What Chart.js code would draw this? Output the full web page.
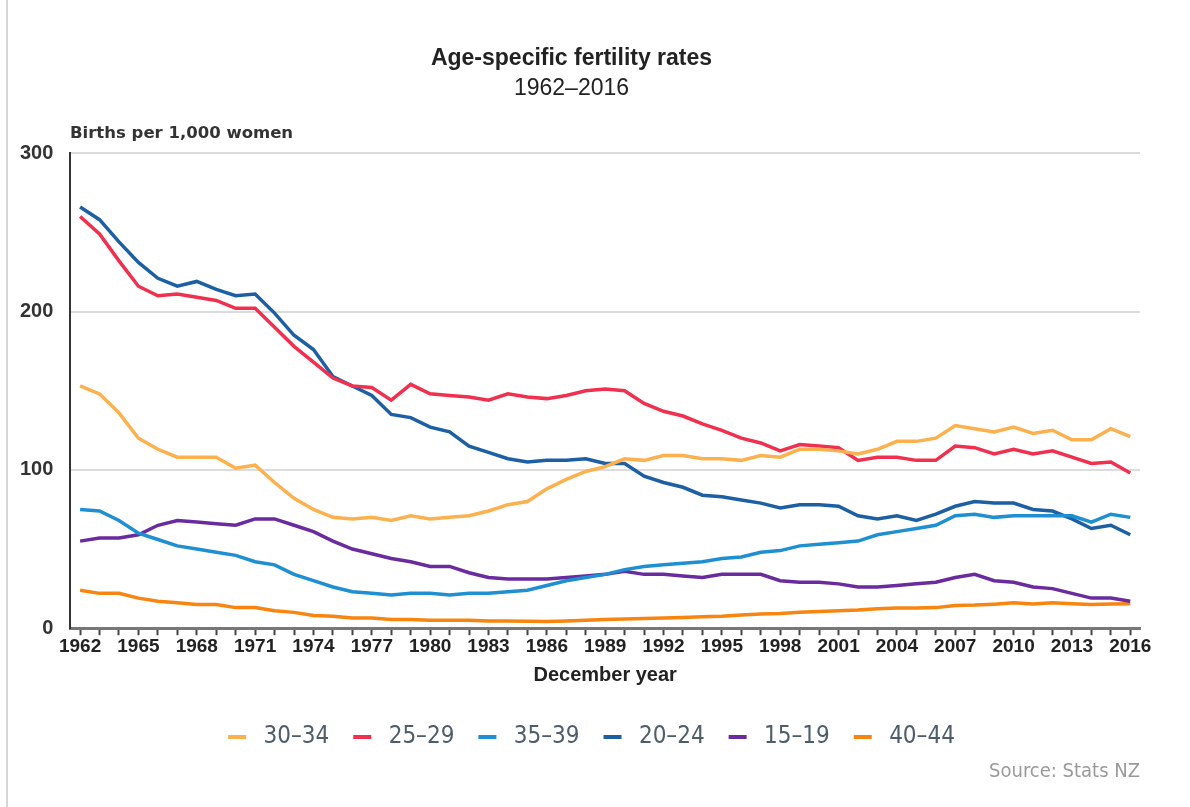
<!DOCTYPE html>
<html>
<head>
<meta charset="utf-8">
<script src="https://cdn.jsdelivr.net/npm/chart.js@4"></script>
<style>
  html, body { margin: 0; padding: 0; background: #fff; }
  #wrap { position: relative; width: 1190px; height: 807px; }
  #edge { position: absolute; left: 6px; top: 0; width: 2px; height: 807px; background: #d6d6d6; }
</style>
</head>
<body>
<div id="wrap">
  <div id="edge"></div>
  <canvas id="fertChart" width="1190" height="807"></canvas>
</div>
<script>
const years = [];
for (let y = 1962; y <= 2016; y++) years.push(y);

const rate30_34 = [153, 148, 136, 120, 113, 108, 108, 108, 101, 103,
    92, 82, 75, 70, 69, 70, 68, 71, 69, 70,
    71, 74, 78, 80, 88, 94, 99, 102, 107, 106,
    109, 109, 107, 107, 106, 109, 108, 113, 113, 112,
    110, 113, 118, 118, 120, 128, 126, 124, 127, 123,
    125, 119, 119, 126, 121];
const rate25_29 = [260, 249, 232, 216, 210, 211, 209, 207, 202, 202,
    190, 178, 168, 158, 153, 152, 144, 154, 148, 147,
    146, 144, 148, 146, 145, 147, 150, 151, 150, 142,
    137, 134, 129, 125, 120, 117, 112, 116, 115, 114,
    106, 108, 108, 106, 106, 115, 114, 110, 113, 110,
    112, 108, 104, 105, 98];
const rate35_39 = [75, 74, 68, 60, 56, 52, 50, 48, 46, 42,
    40, 34, 30, 26, 23, 22, 21, 22, 22, 21,
    22, 22, 23, 24, 27, 30, 32, 34, 37, 39,
    40, 41, 42, 44, 45, 48, 49, 52, 53, 54,
    55, 59, 61, 63, 65, 71, 72, 70, 71, 71,
    71, 71, 67, 72, 70];
const rate20_24 = [266, 258, 244, 231, 221, 216, 219, 214, 210, 211,
    199, 185, 176, 159, 153, 147, 135, 133, 127, 124,
    115, 111, 107, 105, 106, 106, 107, 104, 104, 96,
    92, 89, 84, 83, 81, 79, 76, 78, 78, 77,
    71, 69, 71, 68, 72, 77, 80, 79, 79, 75,
    74, 69, 63, 65, 59];
const rate15_19 = [55, 57, 57, 59, 65, 68, 67, 66, 65, 69,
    69, 65, 61, 55, 50, 47, 44, 42, 39, 39,
    35, 32, 31, 31, 31, 32, 33, 34, 36, 34,
    34, 33, 32, 34, 34, 34, 30, 29, 29, 28,
    26, 26, 27, 28, 29, 32, 34, 30, 29, 26,
    25, 22, 19, 19, 17];
const rate40_44 = [24, 22, 22, 19, 17, 16, 15, 15, 13, 13,
    11, 10, 8, 7.5, 6.5, 6.5, 5.5, 5.5, 5, 5,
    5, 4.5, 4.5, 4.4, 4.3, 4.6, 5, 5.5, 5.8, 6.2,
    6.5, 6.8, 7.2, 7.6, 8.3, 9, 9.3, 10, 10.5, 11,
    11.5, 12.3, 12.8, 12.8, 13, 14.3, 14.6, 15.2, 16, 15.3,
    16, 15.5, 15, 15.3, 15.5];

const seriesLabels = ['30\u201334', '25\u201329', '35\u201339', '20\u201324', '15\u201319', '40\u201344'];
const seriesValues = [rate30_34, rate25_29, rate35_39, rate20_24, rate15_19, rate40_44];
const seriesColors = ['#FDB14E', '#F0304E', '#1E90D2', '#1D5FA3', '#6A2B9E', '#F7850F'];
const yTicks = [0, 100, 200, 300];

function toPoints(vals) {
    return years.map((yr, i) => ({ x: yr, y: vals[i] }));
}

// axis caption, source note, and a small nudge of the legend row to the right
const extraText = {
    id: 'extraText',
    afterLayout(chart) {
        chart.legend.left += 20;
        chart.legend.right += 20;
    },
    afterDraw(chart) {
        const c = chart.ctx;
        c.save();
        c.fillStyle = '#333';
        c.font = 'bold 16.5px "DejaVu Sans", Verdana, sans-serif';
        c.textAlign = 'left';
        c.textBaseline = 'middle';
        c.fillText('Births per 1,000 women', 70, 134);
        c.fillStyle = '#9a9a9a';
        c.font = '20px "Liberation Sans Narrow", "DejaVu Sans Condensed", sans-serif';
        c.textAlign = 'right';
        c.fillText('Source: Stats NZ', 1140, 772);
        c.restore();
    }
};

const ctx = document.getElementById('fertChart').getContext('2d');
const fertChart = new Chart(ctx, {
    type: 'line',
    data: {
        datasets: seriesLabels.map((lab, i) => ({
            label: lab,
            data: toPoints(seriesValues[i]),
            borderColor: seriesColors[i],
            backgroundColor: seriesColors[i],
            borderWidth: 3.5,
            pointRadius: 0,
            tension: 0
        }))
    },
    options: {
        responsive: false,
        animation: false,
        layout: { padding: { top: 45, left: 3, right: 50, bottom: 48 } },
        plugins: {
            tooltip: { enabled: false },
            title: {
                display: true,
                text: 'Age-specific fertility rates',
                color: '#222',
                font: { family: '"Liberation Sans", Arial, sans-serif', size: 23, weight: 'bold', lineHeight: 1.2 },
                padding: { top: 0, bottom: 2 }
            },
            subtitle: {
                display: true,
                text: '1962\u20132016',
                color: '#222',
                font: { family: '"Liberation Sans", Arial, sans-serif', size: 23, lineHeight: 1.2 },
                padding: { top: 0, bottom: 51 }
            },
            legend: {
                position: 'bottom',
                labels: {
                    boxWidth: 18,
                    boxHeight: 4,
                    padding: 24,
                    color: '#4e5d6c',
                    font: { family: '"Liberation Sans Narrow", "DejaVu Sans Condensed", sans-serif', size: 24 },
                    generateLabels: chart => chart.data.datasets.map((d, i) => ({
                        text: '\u2005' + d.label,
                        fillStyle: d.borderColor,
                        strokeStyle: d.borderColor,
                        lineWidth: 0,
                        fontColor: '#4e5d6c',
                        datasetIndex: i
                    }))
                }
            }
        },
        scales: {
            x: {
                type: 'linear',
                min: 1961.5,
                max: 2016.5,
                afterBuildTicks: axis => { axis.ticks = years.map(v => ({ value: v })); },
                grid: {
                    drawOnChartArea: false,
                    drawTicks: true,
                    tickLength: 7,
                    tickColor: '#444',
                    tickWidth: 2
                },
                border: { color: '#777', width: 3 },
                ticks: {
                    autoSkip: false,
                    maxRotation: 0,
                    padding: 0,
                    color: '#222',
                    font: { family: '"Liberation Sans", Arial, sans-serif', size: 19, weight: 'bold' },
                    callback: v => ((v - 1962) % 3 === 0 ? String(v) : '')
                },
                title: {
                    display: true,
                    text: 'December year',
                    color: '#222',
                    font: { family: '"Liberation Sans", Arial, sans-serif', size: 20, weight: 'bold', lineHeight: 1.2 },
                    padding: { top: 5, bottom: 14 }
                }
            },
            y: {
                min: 0,
                max: 300,
                afterBuildTicks: axis => { axis.ticks = yTicks.map(v => ({ value: v })); },
                grid: { color: '#dcdcdc', lineWidth: 2, drawTicks: false },
                border: { color: '#333', width: 2 },
                ticks: {
                    padding: 17,
                    color: '#333',
                    font: { family: '"Liberation Sans", Arial, sans-serif', size: 20, weight: 'bold' }
                }
            }
        }
    },
    plugins: [extraText]
});
</script>
</body>
</html>
